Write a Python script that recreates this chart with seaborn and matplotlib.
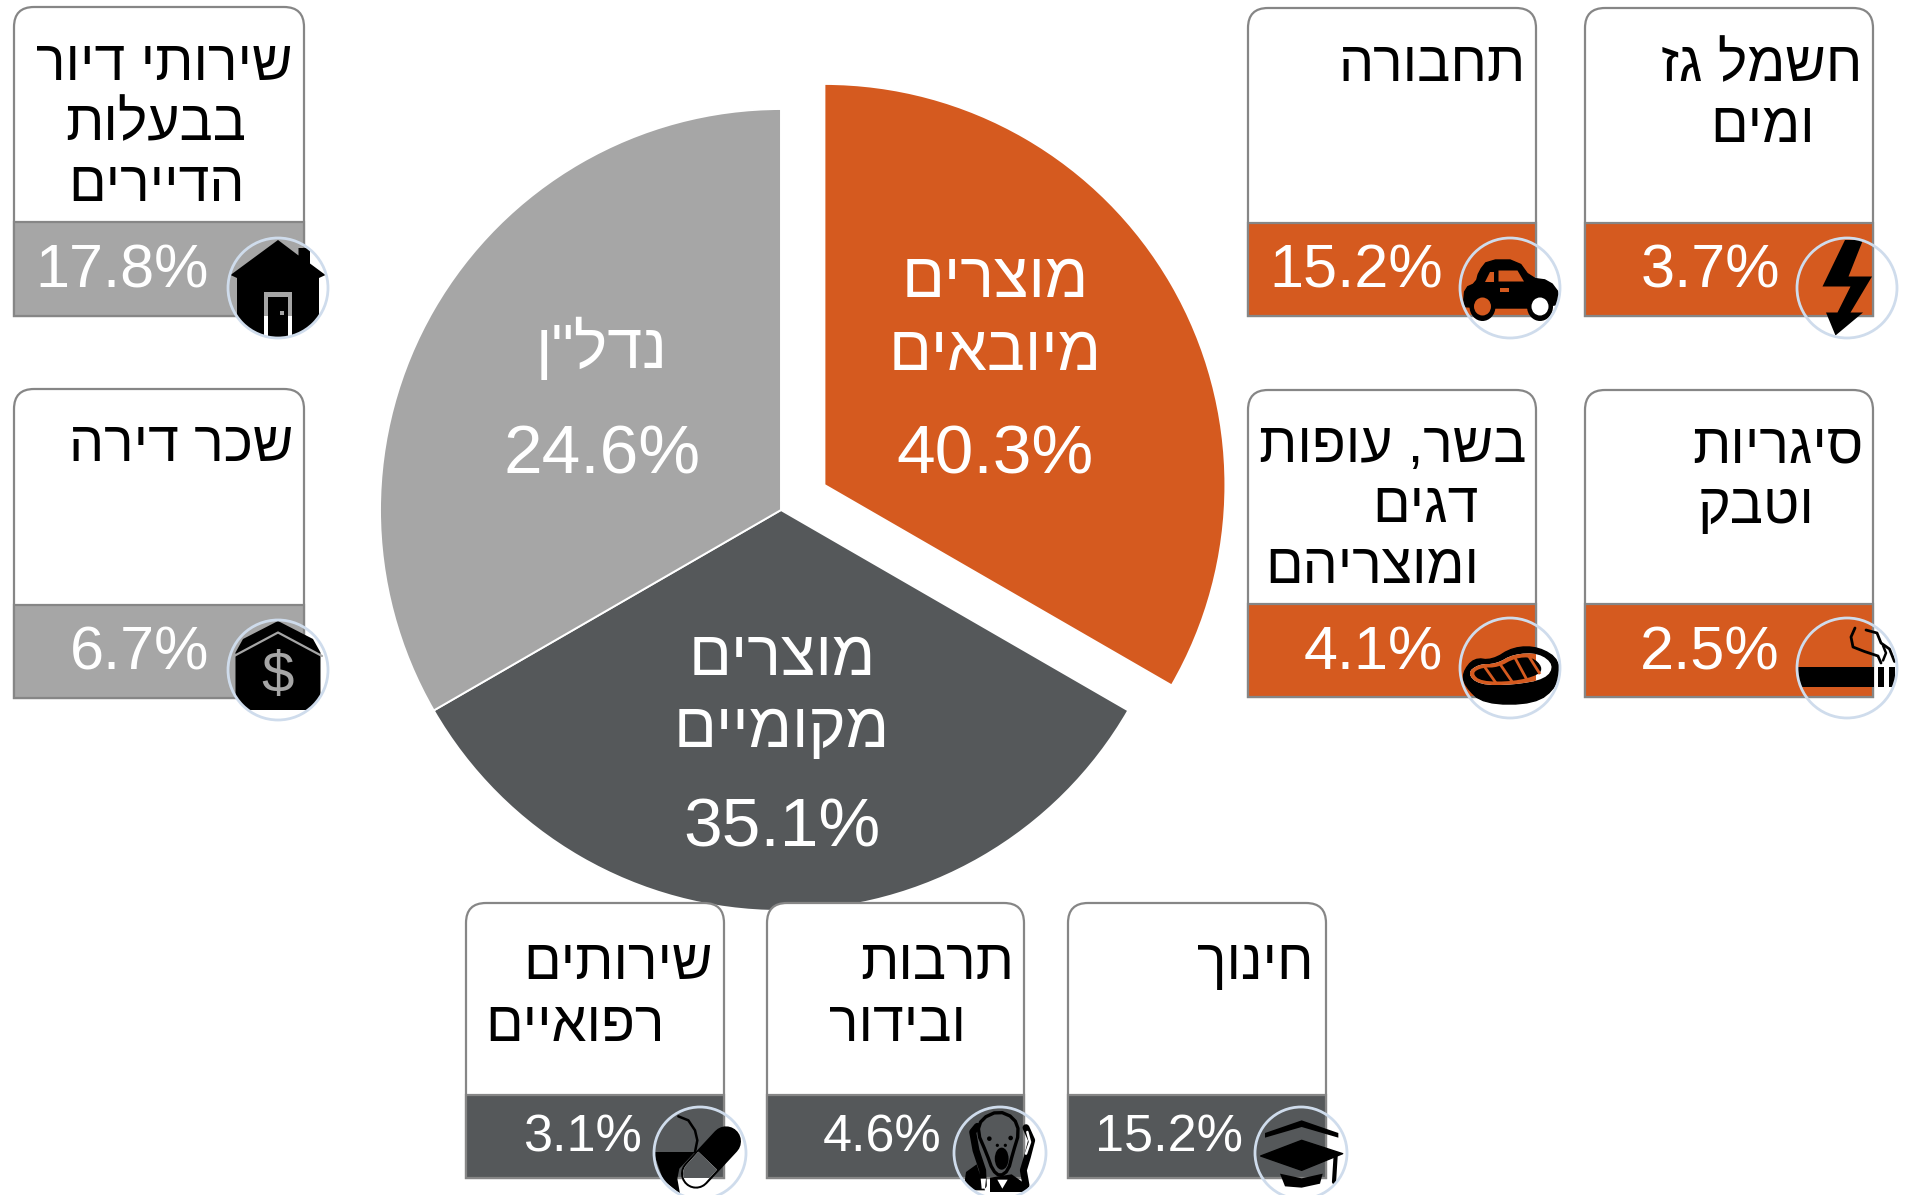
import matplotlib
matplotlib.use("Agg")
import matplotlib.pyplot as plt
import numpy as np
import seaborn as sns
from matplotlib.patches import Circle, Ellipse, PathPatch, Polygon, Rectangle
from matplotlib.path import Path

# ---------- data ----------
group_names = ["מוצרים\nמיובאים", "מוצרים\nמקומיים", 'נדל"ן']
group_shares = ["40.3%", "35.1%", "24.6%"]
# the reference draws the three slices as equal thirds, whatever their labels say
pie_slices = [1, 1, 1]

card_names = ["שירותי דיור\nבבעלות\nהדיירים", "שכר דירה", "תחבורה", "חשמל גז\nומים",
              "בשר, עופות\nדגים\nומוצריהם", "סיגריות\nוטבק", "שירותים\nרפואיים",
              "תרבות\nובידור", "חינוך"]
card_values = ["17.8%", "6.7%", "15.2%", "3.7%", "4.1%", "2.5%", "3.1%", "4.6%", "15.2%"]
card_groups = [2, 2, 0, 0, 0, 0, 1, 1, 1]
card_icons = ["house", "rent", "car", "bolt", "steak", "smoke", "pill", "scream", "cap"]

# ---------- layout (pixels) ----------
W, H = 1912, 1195
PIE_C, PIE_R = (781, 510), 401
EXPLODE = 0.125
GROUP_X = [995, 782, 602]
GROUP_BASE = [[297, 370, 473], [675, 747, 846], [368, 473]]
# x0, x1, top, split, bottom, value right, value baseline, value size
CARD_BOX = [(14, 304, 7, 222, 316, 209, 287, 44), (14, 304, 389, 605, 698, 209, 669, 44),
            (1248, 1536, 8, 223, 316, 1443, 287, 44), (1585, 1873, 8, 223, 316, 1780, 287, 44),
            (1248, 1536, 390, 604, 697, 1443, 669, 44), (1585, 1873, 390, 604, 697, 1780, 669, 44),
            (466, 724, 903, 1095, 1178, 642, 1152, 37.5), (767, 1024, 903, 1095, 1178, 942, 1152, 37.5),
            (1068, 1326, 903, 1095, 1178, 1243, 1152, 37.5)]
NAME_RIGHT = [[293, 246, 245], [293], [1526], [1862, 1815], [1527, 1479, 1479], [1863, 1815],
              [713, 665], [1014, 966], [1314]]
NAME_BASE = [[80, 140, 201], [461], [81], [81, 142], [462, 522, 583], [462, 523],
             [979, 1041], [979, 1041], [979]]
ICON_C = [(278, 288), (278, 670), (1510, 288), (1847, 288), (1510, 668), (1847, 668),
          (700, 1153), (1000, 1153), (1301, 1153)]
ICON_R = [50, 50, 50, 50, 50, 50, 46, 46, 46]

sns.set_theme(style="white")
plt.rcParams["font.family"] = ["Liberation Sans", "DejaVu Sans"]
palette = sns.color_palette(["#D55A1F", "#55585A", "#A6A6A6"])
BORDER = "#868686"
RING = "#CFDCEC"

fig = plt.figure(figsize=(W / 100, H / 100), dpi=100, facecolor="white")


def rtl(s):
    return s[::-1]


def smooth(pts, n=2):
    """Rounds a closed outline by corner cutting."""
    p = np.array(pts, float)
    for _ in range(n):
        q = np.roll(p, -1, axis=0)
        p = np.column_stack([0.75 * p + 0.25 * q, 0.25 * p + 0.75 * q]).reshape(-1, 2)
    return [tuple(v) for v in p]


# ---------- pie ----------
span = 1.5
side = span * 2 * PIE_R
ax_pie = fig.add_axes([(PIE_C[0] - side / 2) / W, 1 - (PIE_C[1] + side / 2) / H, side / W, side / H], zorder=1)
ax_pie.pie(pie_slices, colors=palette, startangle=90, counterclock=False,
           explode=[EXPLODE, 0, 0], radius=1,
           wedgeprops=dict(edgecolor="white", linewidth=1.4))
ax_pie.set_xlim(-span, span)
ax_pie.set_ylim(-span, span)
ax_pie.axis("off")

# ---------- overlay in pixel coordinates ----------
ax = fig.add_axes([0, 0, 1, 1], zorder=2)
ax.set_xlim(0, W)
ax.set_ylim(H, 0)
ax.axis("off")
ax.patch.set_alpha(0)

for i, name in enumerate(group_names):
    parts = name.split("\n")
    bases = GROUP_BASE[i]
    for line, y in zip(parts, bases):
        ax.text(GROUP_X[i], y, rtl(line), ha="center", va="baseline", color="white", fontsize=45.5)
    ax.text(GROUP_X[i], bases[-1], group_shares[i], ha="center", va="baseline", color="white", fontsize=50)


def card_path(x0, x1, y0, y1, r=20):
    verts = [(x0, y1), (x0, y0 + r), (x0, y0), (x0 + r, y0), (x1 - r, y0), (x1, y0), (x1, y0 + r), (x1, y1), (x0, y1)]
    codes = [Path.MOVETO, Path.LINETO, Path.CURVE3, Path.CURVE3, Path.LINETO, Path.CURVE3, Path.CURVE3,
             Path.LINETO, Path.CLOSEPOLY]
    return Path(verts, codes)


class Icon:
    """Draws shapes in a unit frame around a circular badge, clipped by the badge."""

    def __init__(self, c, r, bar, bar_box):
        self.c, self.r, self.bar, self.bar_box = c, r, bar, bar_box
        self.clip = Circle(c, r, transform=ax.transData)

    def xy(self, pts):
        return [(self.c[0] + x * self.r, self.c[1] + y * self.r) for x, y in pts]

    def poly(self, pts, color="black", lw=0.0, z=6):
        p = Polygon(self.xy(pts), closed=True, fc=color, ec=color, lw=lw, joinstyle="round", zorder=z)
        ax.add_patch(p)
        p.set_clip_path(self.clip)
        return p

    def hole(self, pts, lw=0.0, z=7):
        """A see-through part: white outside the coloured bar, bar colour inside it."""
        self.poly(pts, "white", lw, z)
        p = self.poly(pts, self.bar, lw, z + 0.1)
        x0, x1, y0, y1 = self.bar_box
        p.set_clip_path(Rectangle((x0, y0), x1 - x0, y1 - y0, transform=ax.transData))
        return p

    def line(self, pts, color="black", lw=2.0, z=8, cap="round"):
        xs, ys = zip(*self.xy(pts))
        l, = ax.plot(xs, ys, color=color, lw=lw, solid_capstyle=cap, solid_joinstyle="round", zorder=z)
        l.set_clip_path(self.clip)
        return l

    def ell(self, cx, cy, w, h, color="black", z=7):
        e = Ellipse(self.xy([(cx, cy)])[0], w * self.r, h * self.r, fc=color, ec="none", zorder=z)
        ax.add_patch(e)
        e.set_clip_path(self.clip)
        return e


def draw_house(k):
    k.poly([(0, -.96), (.41, -.65), (.41, -.8), (.64, -.8), (.64, -.49), (.95, -.26), (.82, -.2),
            (.82, 1.1), (-.82, 1.1), (-.82, -.2), (-.95, -.26)])
    k.hole([(-.27, .08), (.29, .08), (.29, 1.1), (-.27, 1.1)])
    k.poly([(-.19, .17), (.21, .17), (.21, 1.1), (-.19, 1.1)], z=8)
    k.poly([(.05, .45), (.13, .45), (.13, .53), (.05, .53)], color=k.bar, z=9)


def draw_rent(k):
    k.poly([(-.85, .8), (-.85, -.35), (-.7, -.62), (0, -.98), (.7, -.62), (.85, -.35), (.85, .8)])
    k.line([(-.88, -.28), (0, -.75), (.88, -.28)], color=k.bar, lw=1.6)
    t = ax.text(k.c[0], k.c[1] + .13 * k.r, "$", color=k.bar, fontsize=42, ha="center", va="center", zorder=9)
    t.set_clip_path(k.clip)


def draw_car(k):
    k.poly(smooth([(-.93, .3), (-.9, .0), (-.68, -.1), (-.62, -.33), (-.44, -.56), (.15, -.56), (.41, -.2), (.79, -.15),
                   (1.0, .13), (.92, .4), (-.87, .4)], 1), lw=1.0)
    k.poly([(-.5, -.13), (-.31, -.13), (-.31, -.33), (-.4, -.33)], color=k.bar, z=7)
    k.poly([(-.23, -.13), (.28, -.13), (.15, -.35), (-.23, -.35)], color=k.bar, z=7)
    k.poly([(-.19, 0), (-.02, 0), (-.02, .08), (-.19, .08)], color=k.bar, z=7)
    for x, inner in ((-.55, k.bar), (.6, "white")):
        k.ell(x, .37, .52, .58, z=7)
        k.ell(x, .37, .34, .36, color=inner, z=8)


def draw_bolt(k):
    k.poly([(-.04, -.96), (.32, -.96), (.03, -.23), (.5, -.23), (.07, .49), (.32, .49), (-.23, .95),
            (-.42, .49), (-.19, .49), (.07, -.03), (-.49, -.03)])


def draw_steak(k):
    k.poly(smooth([(-.95, .1), (-.72, -.2), (-.36, -.15), (.07, -.42), (.58, -.42), (1.0, -.15), (.95, .36),
                   (.5, .72), (-.53, .72), (-.9, .36)]), lw=1.0)
    k.hole(smooth([(-.86, .1), (-.62, -.08), (-.28, -.08), (.07, -.28), (.58, -.3), (.88, -.06), (.72, .22),
                   (.07, .34), (-.62, .34)]), z=7)
    k.poly(smooth([(-.76, .1), (-.56, -.01), (-.24, -.01), (.1, -.2), (.45, -.22), (.65, -.02), (.58, .14),
                   (.07, .27), (-.58, .27)]), z=8)
    for (a, b) in [((-.52, -.04), (-.28, .3)), ((-.2, -.08), (.06, .3)), ((.08, -.24), (.34, .24)), ((.36, -.26), (.6, .12))]:
        k.line([a, b], color=k.bar, lw=2.0, z=9, cap="butt")


def draw_smoke(k):
    k.poly([(-1.0, -.02), (.54, -.02), (.54, .37), (-1.0, .37)])
    k.poly([(.62, -.02), (.75, -.02), (.75, .37), (.62, .37)])
    k.poly([(.84, -.02), (.97, -.02), (.97, .37), (.84, .37)])
    k.line([(.16, -.8), (.08, -.62), (.12, -.42), (.35, -.33), (.62, -.24), (.68, -.1)], lw=2.0)
    k.line([(.38, -.76), (.6, -.7), (.68, -.5), (.85, -.38), (.95, -.13)], lw=2.0)
    k.line([(.72, -.15), (.78, -.3), (.72, -.45)], lw=1.8)


def draw_pill(k):
    f = lambda x, y: ((x - 240) / 138, (y - 188) / 138)
    # tablet
    k.line([f(175, 78), f(205, 90), f(225, 120), f(232, 150), f(225, 185)], lw=1.8)
    k.poly([f(*p) for p in [(100, 185), (225, 185), (178, 235), (172, 265), (180, 310), (130, 270)]])
    # capsule: black body, then its see-through half
    u = np.array([.69, -.72])
    n = np.array([.72, .69])
    A, B, M = np.array([318., 153.]), np.array([228., 250.]), np.array([263., 211.])
    k.line([f(*A), f(*B)], lw=21.6, z=6)
    t = np.linspace(0, np.pi, 20)
    arc = [B + 39 * (np.cos(a) * n - np.sin(a) * u) for a in t]
    half = [M + 39 * n] + arc + [M - 39 * n]
    k.hole([f(*p) for p in half], z=7)


def draw_scream(k):
    f = lambda x, y: ((x - 180) / 138, (y - 188) / 138)
    # shoulders / body
    k.poly([f(*p) for p in [(70, 300), (78, 245), (110, 222), (135, 300)]])
    k.poly([f(*p) for p in [(150, 262), (215, 252), (262, 285), (265, 305), (150, 305)]])
    # hands
    k.line([f(*p) for p in [(112, 108), (98, 125), (108, 180), (128, 240), (130, 285)]], lw=5, z=6)
    k.line([f(*p) for p in [(258, 112), (275, 150), (262, 200), (250, 240), (258, 285)]], lw=5, z=6)
    # head
    head = smooth([(112, 125), (125, 85), (175, 62), (222, 82), (238, 125), (218, 190), (205, 240), (180, 258),
                   (158, 240), (140, 190)], 1)
    k.poly([f(*p) for p in head], color=k.bar, z=7)
    k.line([f(*p) for p in head + head[:1]], lw=2.4, z=8)
    k.line([f(262, 125), f(270, 155), f(258, 190)], color="white", lw=1.8, z=7)
    k.poly([f(*p) for p in [(122, 265), (138, 265), (135, 295), (125, 295)]], color="white", z=9)
    k.poly([f(*p) for p in [(172, 268), (203, 268), (187, 295)]], color="white", z=9)
    # face
    for x, y, s in [(148, 145, .1), (212, 143, .1), (172, 165, .07), (196, 165, .07)]:
        cx, cy = f(x, y)
        k.ell(cx, cy, s, s, z=9)
    cx, cy = f(185, 205)
    k.ell(cx, cy, .3, .48, z=9)


def draw_cap(k):
    f = lambda x, y: ((x - 1083) / 138, (y - 188) / 138)
    k.poly([f(*p) for p in [(975, 128), (1085, 90), (1195, 128), (1195, 142), (1085, 110), (975, 142)]])
    k.poly([f(*p) for p in [(962, 197), (1085, 150), (1208, 190), (1085, 240)]], lw=1)
    k.line([f(1187, 195), f(1182, 275)], lw=3)
    k.poly([f(*p) for p in [(1020, 250), (1085, 264), (1148, 250), (1140, 280), (1085, 292), (1035, 288)]])


DRAW = dict(house=draw_house, rent=draw_rent, car=draw_car, bolt=draw_bolt, steak=draw_steak,
            smoke=draw_smoke, pill=draw_pill, scream=draw_scream, cap=draw_cap)

for i, name in enumerate(card_names):
    x0, x1, y0, ysplit, y1, vx, vy, vsize = CARD_BOX[i]
    color = palette[card_groups[i]]
    ax.add_patch(PathPatch(card_path(x0, x1, y0, y1), fc="white", ec=BORDER, lw=1.6, zorder=3))
    ax.add_patch(Rectangle((x0, ysplit), x1 - x0, y1 - ysplit, fc=color, ec=BORDER, lw=1.6, zorder=4))
    for line, rx, by in zip(name.split("\n"), NAME_RIGHT[i], NAME_BASE[i]):
        ax.text(rx, by, rtl(line), ha="right", va="baseline", color="black", fontsize=40, zorder=5)
    ax.text(vx, vy, card_values[i], ha="right", va="baseline", color="white", fontsize=vsize, zorder=5)
    k = Icon(ICON_C[i], ICON_R[i], color, (x0, x1, ysplit, y1))
    DRAW[card_icons[i]](k)
    ax.add_patch(Circle(ICON_C[i], ICON_R[i], fc="none", ec=RING, lw=2.0, zorder=10))

fig.savefig("out.png", dpi=100, facecolor="white")
